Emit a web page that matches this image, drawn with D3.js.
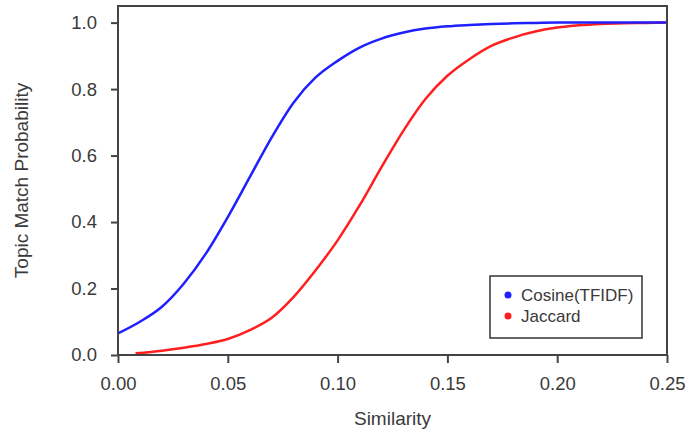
<!DOCTYPE html>
<html>
<head>
<meta charset="utf-8">
<script src="https://cdn.jsdelivr.net/npm/d3@7"></script>
<style>
  body { margin: 0; background: #fff; }
  text { font-family: "Liberation Sans", Arial, sans-serif; fill: #3a3a3a; }
</style>
</head>
<body>
<script>
// similarity values (x) and match probabilities
var cosineX = [0.00, 0.01, 0.02, 0.03, 0.04, 0.05, 0.06, 0.07, 0.08, 0.09, 0.10, 0.11, 0.12,
               0.13, 0.14, 0.15, 0.16, 0.17, 0.18, 0.19, 0.20, 0.21, 0.22, 0.23, 0.24, 0.25];
var cosineY = [0.065, 0.10, 0.145, 0.215, 0.305, 0.415, 0.535, 0.655, 0.76, 0.835, 0.885, 0.925, 0.952,
               0.97, 0.982, 0.989, 0.993, 0.996, 0.998, 0.999, 1.0, 1.0, 1.0, 1.0, 1.0, 1.0];
var jaccardX = [0.008, 0.02, 0.03, 0.04, 0.05, 0.06, 0.07, 0.08, 0.09, 0.10, 0.11, 0.12,
                0.13, 0.14, 0.15, 0.16, 0.17, 0.18, 0.19, 0.20, 0.21, 0.22, 0.23, 0.24, 0.25];
var jaccardY = [0.005, 0.013, 0.022, 0.033, 0.048, 0.075, 0.112, 0.175, 0.255, 0.345, 0.45, 0.565,
                0.675, 0.77, 0.84, 0.89, 0.93, 0.955, 0.973, 0.985, 0.992, 0.996, 0.998, 0.999, 1.0];
var xTicks = [0, 0.05, 0.10, 0.15, 0.20, 0.25];
var yTicks = [0, 0.2, 0.4, 0.6, 0.8, 1.0];
var seriesNames = ["Cosine(TFIDF)", "Jaccard"];
var seriesColors = ["#1f1fff", "#ff1f1f"];

var width = 688, height = 434;
var margin = {top: 6, right: 21, bottom: 79, left: 118};

var svg = d3.select("body").append("svg")
  .attr("width", width)
  .attr("height", height);

var x = d3.scaleLinear().domain([0, 0.25]).range([margin.left, width - margin.right]);
var y = d3.scaleLinear().domain([0, 1.05]).range([height - margin.bottom, margin.top]);

var line = d3.line()
  .curve(d3.curveMonotoneX)
  .x(function(d) { return x(d[0]); })
  .y(function(d) { return y(d[1]); });

var series = [
  d3.zip(cosineX, cosineY),
  d3.zip(jaccardX, jaccardY)
];

// curves (red under blue)
svg.selectAll("path.curve")
  .data([series[1], series[0]])
  .enter()
  .append("path")
  .attr("class", "curve")
  .attr("d", line)
  .attr("fill", "none")
  .attr("stroke", function(d, i) { return i === 0 ? seriesColors[1] : seriesColors[0]; })
  .attr("stroke-width", 2.5)
  .attr("stroke-linejoin", "round");

// frame
svg.append("rect")
  .attr("x", margin.left)
  .attr("y", margin.top)
  .attr("width", width - margin.left - margin.right)
  .attr("height", height - margin.top - margin.bottom)
  .attr("fill", "none")
  .attr("stroke", "#444")
  .attr("stroke-width", 2);

// x axis
var xAxis = svg.append("g")
  .attr("transform", "translate(0," + (height - margin.bottom) + ")")
  .call(d3.axisBottom(x).tickValues(xTicks).tickFormat(d3.format(".2f")).tickSize(8).tickPadding(14));
xAxis.select(".domain").remove();
xAxis.selectAll("line").attr("stroke", "#444").attr("stroke-width", 2);
xAxis.selectAll("text").attr("font-size", "18.5px").attr("fill", "#3a3a3a");

// y axis
var yAxis = svg.append("g")
  .attr("transform", "translate(" + margin.left + ",0)")
  .call(d3.axisLeft(y).tickValues(yTicks).tickFormat(d3.format(".1f")).tickSize(7).tickPadding(14));
yAxis.select(".domain").remove();
yAxis.selectAll("line").attr("stroke", "#444").attr("stroke-width", 2);
yAxis.selectAll("text").attr("font-size", "18.5px").attr("fill", "#3a3a3a");
svg.selectAll(".tick text").attr("font-family", "'Liberation Sans', Arial, sans-serif");

// axis titles
svg.append("text")
  .attr("x", (margin.left + width - margin.right) / 2)
  .attr("y", 425)
  .attr("text-anchor", "middle")
  .attr("font-size", "19px")
  .text("Similarity");

svg.append("text")
  .attr("transform", "translate(28," + ((margin.top + height - margin.bottom) / 2) + ") rotate(-90)")
  .attr("text-anchor", "middle")
  .attr("font-size", "19px")
  .text("Topic Match Probability");

// legend
var legend = svg.append("g").attr("transform", "translate(490,276)");
legend.append("rect")
  .attr("width", 152)
  .attr("height", 62)
  .attr("fill", "#fff")
  .attr("stroke", "#333")
  .attr("stroke-width", 1.5);

var items = legend.selectAll("g.item")
  .data(seriesNames)
  .enter()
  .append("g")
  .attr("class", "item")
  .attr("transform", function(d, i) { return "translate(0," + (19 + i * 21) + ")"; });

items.append("circle")
  .attr("cx", 18)
  .attr("cy", 0)
  .attr("r", 3.5)
  .attr("fill", function(d, i) { return seriesColors[i]; });

items.append("text")
  .attr("x", 31)
  .attr("y", 6)
  .attr("font-size", "17px")
  .text(function(d) { return d; });
</script>
</body>
</html>
